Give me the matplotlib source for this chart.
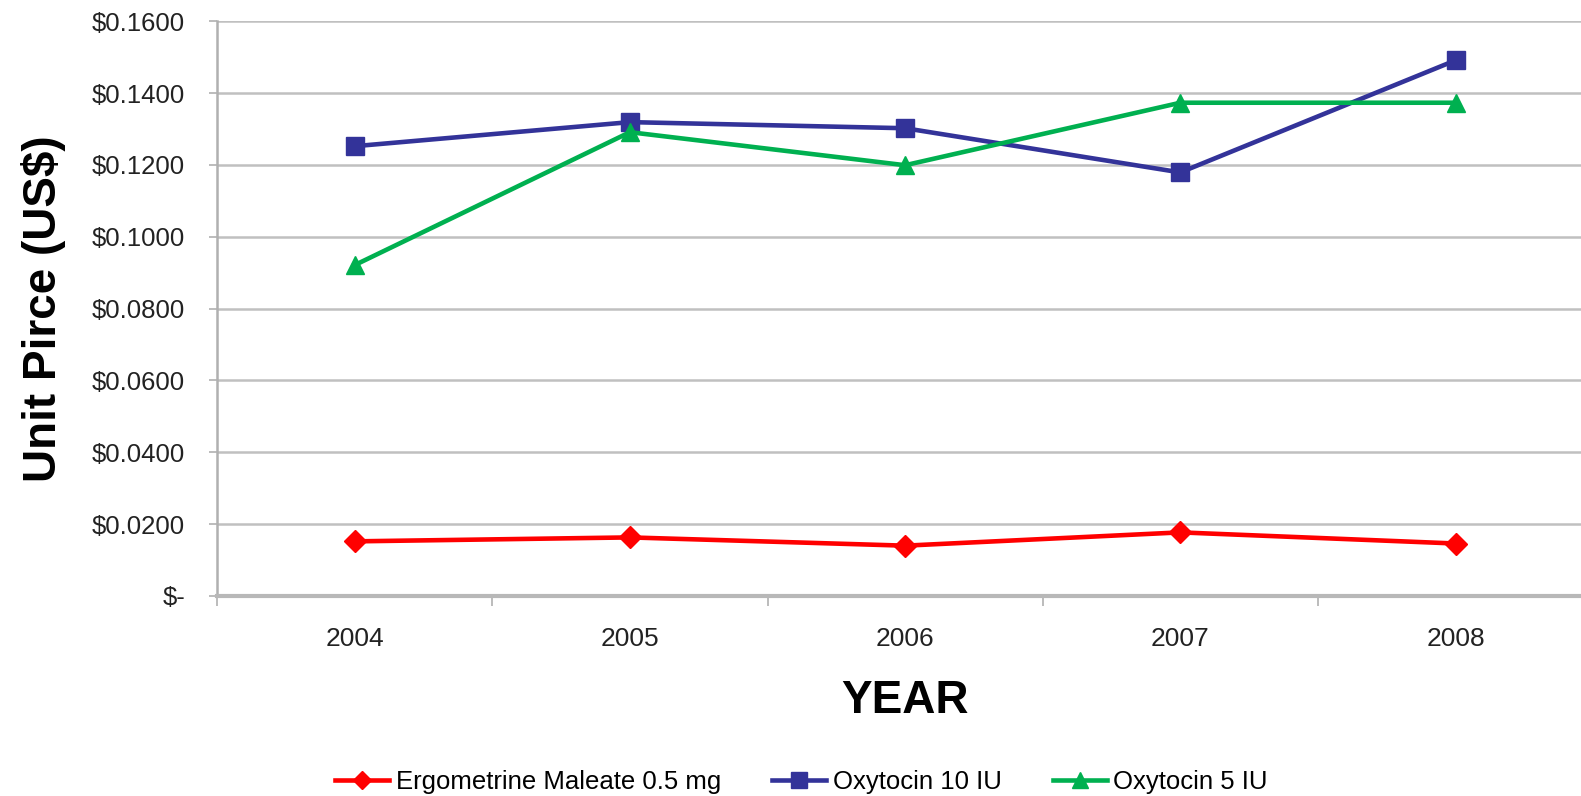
import numpy as np
import matplotlib
matplotlib.use("Agg")
import matplotlib.pyplot as plt
from matplotlib.ticker import FuncFormatter, MultipleLocator

plt.rcParams['font.family'] = ['Liberation Sans', 'DejaVu Sans']

years = ["2004", "2005", "2006", "2007", "2008"]
ergometrine = [0.0152, 0.0163, 0.0140, 0.0177, 0.0146]
oxytocin_10 = [0.1252, 0.1319, 0.1302, 0.1179, 0.1491]
oxytocin_5 = [0.0921, 0.1291, 0.1199, 0.1373, 0.1373]

fig = plt.figure(figsize=(15.81, 7.96), dpi=100)
ax = fig.add_axes([0.1373, 0.2513, 0.8704, 0.7221])

x = np.arange(len(years))
ax.plot(x, ergometrine, color="#FF0000", lw=3.3, marker="D", ms=11,
        label="Ergometrine Maleate 0.5 mg")
ax.plot(x, oxytocin_10, color="#333399", lw=3.3, marker="s", ms=13.5,
        label="Oxytocin 10 IU")
ax.plot(x, oxytocin_5, color="#00B050", lw=3.3, marker="^", ms=13.5,
        label="Oxytocin 5 IU")

ax.set_xlim(-0.5, 4.5)
ax.set_ylim(0, 0.16)
ax.yaxis.set_major_locator(MultipleLocator(0.02))

def money(v, pos):
    if abs(v) < 1e-9:
        return "$-"
    return f"${v:.4f}"

ax.yaxis.set_major_formatter(FuncFormatter(money))
ax.set_xticks(x)
ax.set_xticklabels(years)
ax.set_xticks(np.arange(-0.5, 5.0, 1.0), minor=True)

ax.grid(axis="y", color="#C0C0C0", lw=1.8)
ax.set_axisbelow(True)

for s in ["top", "right"]:
    ax.spines[s].set_visible(False)
ax.spines["left"].set_color("#B0B0B0")
ax.spines["left"].set_linewidth(1.8)
ax.spines["bottom"].set_color("#B8B8B8")
ax.spines["bottom"].set_linewidth(3)

ax.tick_params(axis="y", length=6, width=1.2, color="#B0B0B0", pad=17,
               labelsize=18.5, labelcolor="#222222")
ax.tick_params(axis="x", which="major", length=0, pad=22,
               labelsize=19, labelcolor="#222222")
ax.tick_params(axis="x", which="minor", length=7, width=1.2, color="#B0B0B0")

ax.set_ylabel("Unit Pirce (US$)", fontsize=33, fontweight="bold")
ax.yaxis.set_label_coords(-0.11, 0.5)
ax.set_xlabel("YEAR", fontsize=33, fontweight="bold")
ax.xaxis.set_label_coords(0.5, -0.145)

fig.legend(loc="center", bbox_to_anchor=(0.507, 0.018), ncol=3, frameon=False,
           fontsize=18.5, handlelength=2.1, handletextpad=0.25,
           columnspacing=2.0, markerscale=0.85)

fig.savefig("out.png", dpi=100)
